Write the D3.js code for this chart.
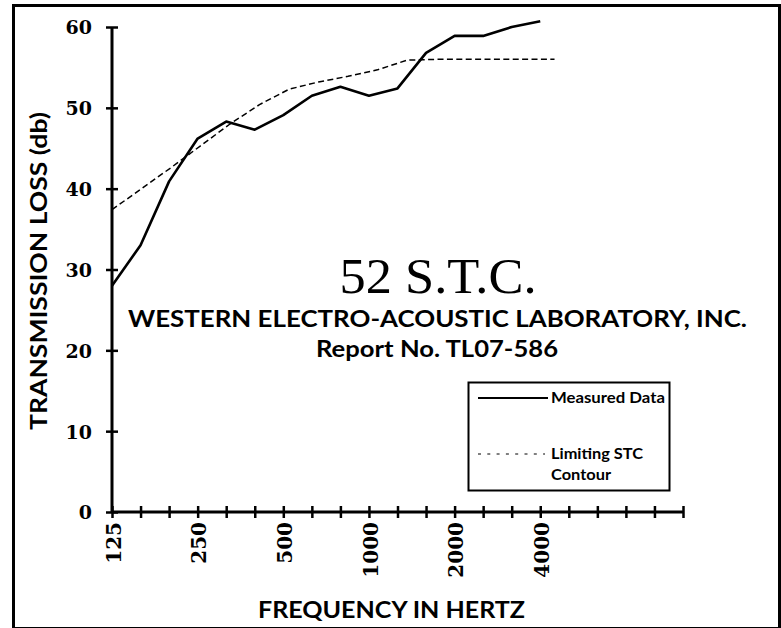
<!DOCTYPE html>
<html>
<head>
<meta charset="utf-8">
<script src="https://cdn.jsdelivr.net/npm/d3@7"></script>
<style>
  html, body { margin: 0; padding: 0; background: #fff; }
  svg { display: block; }
</style>
</head>
<body>
<svg id="chart" width="781" height="628"></svg>
<script>
// ---- data ----
const bands = ["125","160","200","250","315","400","500","630","800","1000","1250","1600","2000","2500","3150","4000","5000","6300","8000","10000","12500"];
const tickLabels = ["125","250","500","1000","2000","4000"];
const yTicks = [0, 10, 20, 30, 40, 50, 60];
const measuredBands = ["125","160","200","250","315","400","500","630","800","1000","1250","1600","2000","2500","3150","4000"];
const measured = [28.0, 33.0, 40.9, 46.2, 48.3, 47.3, 49.1, 51.5, 52.6, 51.5, 52.4, 56.8, 58.9, 58.9, 60.0, 60.7];
const contourBands = ["125","160","200","250","315","400","500","630","800","1000","1250","1600","2000","2500","3150","4000"];
const contour = [37.4, 40.0, 42.6, 45.3, 48.0, 50.4, 52.3, 53.2, 53.9, 54.7, 55.9, 56.0, 56.0, 56.0, 56.0, 56.0];
const legendLabels = ["Measured Data", "Limiting STC", "Contour"];

// ---- layout ----
const svg = d3.select("#chart");
const pLeft = 112, pRight = 683, pTop = 27, pBottom = 512;

const x = d3.scalePoint().domain(bands).range([pLeft, pRight]);
const step = x.step();
const xc = d3.scalePoint().domain(contourBands).range([pLeft, pLeft + step * 15.5]);
const y = d3.scaleLinear().domain([0, 60]).range([pBottom, pTop]);

// outer frame
svg.append("rect").attr("x", 13.5).attr("y", 5.5).attr("width", 766).attr("height", 623)
  .attr("fill", "none").attr("stroke", "#000").attr("stroke-width", 3);

const numFont = "'DejaVu Serif', 'Liberation Serif', serif";

// y axis
const gy = svg.append("g").attr("transform", `translate(${pLeft},0)`)
  .call(d3.axisLeft(y).tickValues(yTicks).tickSize(6).tickPadding(0).tickFormat(d3.format("d")));
gy.select(".domain").attr("stroke-width", 3).attr("d", `M0,${pTop}V${pBottom}`);
gy.selectAll(".tick line").attr("x1", 6).attr("x2", -6).attr("stroke-width", 2.5);
gy.selectAll(".tick text")
  .attr("x", -20).attr("dy", "0.36em")
  .style("font-family", numFont).style("font-weight", "bold").style("font-size", "19px")
  .attr("fill", "#000");

// x axis
const gx = svg.append("g").attr("transform", `translate(0,${pBottom})`)
  .call(d3.axisBottom(x).tickSize(6).tickFormat(d => tickLabels.includes(d) ? d : ""));
gx.select(".domain").attr("stroke-width", 3).attr("d", `M${pLeft},0H${pRight}`);
gx.selectAll(".tick line").attr("y1", -6).attr("y2", 6).attr("stroke-width", 2.5);
gx.selectAll(".tick text")
  .attr("y", 0).attr("dy", "0.36em")
  .attr("transform", "translate(1,10) rotate(-90)")
  .attr("text-anchor", "end")
  .style("font-family", numFont).style("font-weight", "bold").style("font-size", "20px")
  .attr("fill", "#000");

// lines
const lineM = d3.line().x((d, i) => x(measuredBands[i])).y(d => y(d));
svg.append("path").datum(measured).attr("d", lineM)
  .attr("fill", "none").attr("stroke", "#000").attr("stroke-width", 2.6).attr("stroke-linejoin", "round");

const lineC = d3.line().x((d, i) => xc(contourBands[i])).y(d => y(d));
svg.append("path").datum(contour).attr("d", lineC)
  .attr("fill", "none").attr("stroke", "#000").attr("stroke-width", 1.5).attr("stroke-dasharray", "6,3.4");

// axis titles
const sans = "Lato, 'Open Sans', sans-serif";
svg.append("text").attr("transform", "translate(47,271) rotate(-90)")
  .attr("text-anchor", "middle").attr("textLength", 318).attr("lengthAdjust", "spacingAndGlyphs")
  .style("font-family", sans).style("font-weight", "bold").style("font-size", "23px")
  .text("TRANSMISSION LOSS (db)");
svg.append("text").attr("x", 391.5).attr("y", 618)
  .attr("text-anchor", "middle").attr("textLength", 267).attr("lengthAdjust", "spacingAndGlyphs")
  .style("font-family", sans).style("font-weight", "bold").style("font-size", "22px")
  .text("FREQUENCY IN HERTZ");

// center texts
svg.append("text").attr("x", 438).attr("y", 293)
  .attr("text-anchor", "middle").attr("textLength", 197).attr("lengthAdjust", "spacingAndGlyphs")
  .style("font-family", "'Liberation Serif', serif").style("font-size", "50px")
  .text("52 S.T.C.");
svg.append("text").attr("x", 437.5).attr("y", 327)
  .attr("text-anchor", "middle").attr("textLength", 619).attr("lengthAdjust", "spacingAndGlyphs")
  .style("font-family", sans).style("font-weight", "bold").style("font-size", "23px")
  .text("WESTERN ELECTRO-ACOUSTIC LABORATORY, INC.");
svg.append("text").attr("x", 437).attr("y", 357)
  .attr("text-anchor", "middle").attr("textLength", 242).attr("lengthAdjust", "spacingAndGlyphs")
  .style("font-family", sans).style("font-weight", "bold").style("font-size", "22px")
  .text("Report No. TL07-586");

// legend
const lg = svg.append("g");
lg.append("rect").attr("x", 468.5).attr("y", 382.5).attr("width", 201).attr("height", 108)
  .attr("fill", "#fff").attr("stroke", "#000").attr("stroke-width", 2);
lg.append("line").attr("x1", 478).attr("x2", 548).attr("y1", 398).attr("y2", 398)
  .attr("stroke", "#000").attr("stroke-width", 2);
lg.append("line").attr("x1", 478).attr("x2", 545).attr("y1", 454).attr("y2", 454)
  .attr("stroke", "#000").attr("stroke-width", 1).attr("stroke-dasharray", "3,6.3");
const legendStyle = t => t.style("font-family", sans).style("font-weight", "bold").style("font-size", "15px");
lg.append("text").attr("x", 551).attr("y", 403).attr("textLength", 114).attr("lengthAdjust", "spacingAndGlyphs")
  .call(legendStyle).text(legendLabels[0]);
lg.append("text").attr("x", 551).attr("y", 459).attr("textLength", 92).attr("lengthAdjust", "spacingAndGlyphs")
  .call(legendStyle).text(legendLabels[1]);
lg.append("text").attr("x", 551).attr("y", 480).attr("textLength", 60).attr("lengthAdjust", "spacingAndGlyphs")
  .call(legendStyle).text(legendLabels[2]);
</script>
</body>
</html>
